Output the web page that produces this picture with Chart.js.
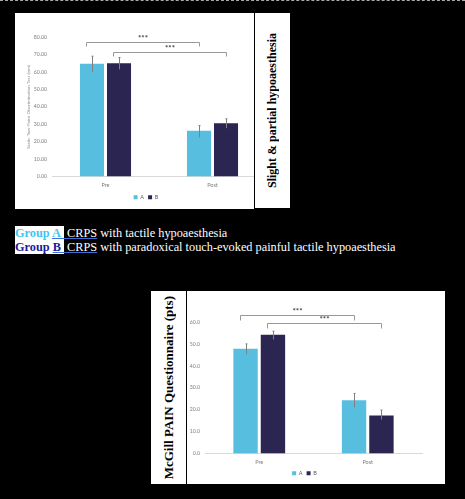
<!DOCTYPE html>
<html>
<head>
<meta charset="utf-8">
<script src="https://cdn.jsdelivr.net/npm/chart.js@4.4.1/dist/chart.umd.min.js"></script>
<style>
    html, body { margin: 0; padding: 0; background: #000; }
    body { width: 465px; height: 499px; position: relative; overflow: hidden; }
    .dash { position: absolute; left: 0; top: 0; width: 465px; border-top: 1px dashed #aaa; }
    .box { position: absolute; background: #fff; overflow: hidden; }
    .side { display: flex; align-items: center; justify-content: center; }
    .side span {
        writing-mode: vertical-rl; transform: rotate(180deg);
        font: bold 12px "Liberation Serif", "DejaVu Serif", serif; color: #000; white-space: nowrap;
    }
    #notes { position: absolute; left: 15px; top: 226px; font-family: "Liberation Serif", serif; font-size: 12.3px; line-height: 14px; color: #fff; white-space: nowrap; }
    #notes .w { background: #fff; }
    #notes u { text-decoration-color: #3b6fd6; }
    .ga { color: #3fc5f3; font-weight: bold; }
    .gb { color: #1a1a9a; font-weight: bold; }
</style>
</head>
<body>
<div class="dash"></div>

<div class="box" style="left:15px; top:13px; width:239px; height:196px;">
    <canvas id="tpdChart" width="265" height="196"></canvas>
</div>
<div class="box side" style="left:255px; top:13px; width:35px; height:195px;">
    <span>Slight &amp; partial hypoaesthesia</span>
</div>

<div id="notes">
    <div><span class="w"><span class="ga">Group <u>A&nbsp;</u></span></span><u>&nbsp;CRPS</u> with tactile hypoaesthesia</div>
    <div><span class="w"><span class="gb">Group <u>B&nbsp;</u></span></span><u>&nbsp;CRPS</u> with paradoxical touch-evoked painful tactile hypoaesthesia</div>
</div>

<div class="box side" style="left:151px; top:291px; width:35px; height:193px;">
    <span style="font-size:13px">McGill PAIN Questionnaire (pts)</span>
</div>
<div class="box" style="left:187px; top:291px; width:258px; height:193px;">
    <canvas id="mcgChart" width="258" height="193"></canvas>
</div>

<script>
const categories = ['Pre', 'Post'];
const seriesNames = ['A', 'B'];
const seriesColors = ['#57bee0', '#2b2552'];

// Static Two-Point Discrimination Test (mm)
const tpdA = [64.7, 26.3];
const tpdB = [64.9, 30.6];
const tpdALow = [60.0, 22.4];
const tpdAHigh = [69.0, 29.2];
const tpdBLow = [61.4, 27.7];
const tpdBHigh = [68.2, 33.1];
const tpdMax = 80;
const tpdStep = 10;
const tpdBracketLevels = [77.4, 71.5];

// McGill PAIN Questionnaire (pts)
const mcgA = [47.8, 24.3];
const mcgB = [54.2, 17.3];
const mcgALow = [45.3, 21.0];
const mcgAHigh = [50.0, 27.4];
const mcgBLow = [52.0, 15.5];
const mcgBHigh = [55.8, 19.8];
const mcgMax = 60;
const mcgStep = 10;
const mcgBracketLevels = [63.2, 59.6];

const starLabel = '***';

// error bars drawn from each dataset's low/high arrays
const errorBars = {
    id: 'errorBars',
    afterDatasetsDraw(chart) {
        const ctx = chart.ctx, y = chart.scales.y;
        ctx.save();
        ctx.strokeStyle = '#808080';
        ctx.lineWidth = 1;
        chart.data.datasets.forEach((ds, i) => {
            chart.getDatasetMeta(i).data.forEach((bar, j) => {
                const top = y.getPixelForValue(ds.high[j]);
                const bot = y.getPixelForValue(ds.low[j]);
                const x = Math.round(bar.x) + 0.5;
                ctx.beginPath();
                ctx.moveTo(x, top); ctx.lineTo(x, bot);
                ctx.moveTo(x - 1, top); ctx.lineTo(x + 1, top);
                ctx.stroke();
            });
        });
        ctx.restore();
    }
};

// significance brackets: series i, Pre -> Post
const brackets = {
    id: 'brackets',
    afterDatasetsDraw(chart, args, opts) {
        const ctx = chart.ctx, y = chart.scales.y;
        ctx.save();
        ctx.strokeStyle = '#999';
        ctx.lineWidth = 1;
        ctx.fillStyle = '#3f3f3f';
        ctx.font = 'bold 8px Lato';
        ctx.textAlign = 'center';
        ctx.textBaseline = 'middle';
        opts.levels.forEach((level, i) => {
            const bars = chart.getDatasetMeta(i).data;
            const left = Math.round(bars[0].x - 6) + 0.5;
            const right = Math.round(bars[1].x) + 0.5;
            const yl = Math.round(y.getPixelForValue(level)) + 0.5;
            ctx.beginPath();
            ctx.moveTo(left, yl + opts.tick);
            ctx.lineTo(left, yl);
            ctx.lineTo(right, yl);
            ctx.lineTo(right, yl + opts.tick);
            ctx.stroke();
            ctx.fillText(starLabel, (left + right) / 2, yl - 4);
        });
        ctx.restore();
    }
};

function makeChart(id, a, b, aLow, aHigh, bLow, bHigh, max, step, decimals, levels, cfg) {
    return new Chart(document.getElementById(id), {
        type: 'bar',
        data: {
            labels: categories,
            datasets: [
                { label: seriesNames[0], data: a, low: aLow, high: aHigh, backgroundColor: seriesColors[0] },
                { label: seriesNames[1], data: b, low: bLow, high: bHigh, backgroundColor: seriesColors[1] }
            ]
        },
        options: {
            responsive: false,
            animation: false,
            categoryPercentage: cfg.catPct,
            barPercentage: 0.89,
            layout: { padding: cfg.padding },
            scales: {
                x: {
                    grid: { display: false, drawTicks: false },
                    border: { display: true, color: '#d9d9d9' },
                    ticks: { color: '#7f7f7f', font: { family: 'Lato', size: 5.5 }, padding: 5 },
                    afterFit: s => { s.height = cfg.xHeight; }
                },
                y: {
                    min: 0, max: max,
                    grid: { display: false, drawTicks: false },
                    border: { display: false },
                    ticks: {
                        stepSize: step, padding: 5, color: '#7f7f7f',
                        font: { family: 'Lato', size: 5.2 },
                        callback: v => v.toFixed(decimals)
                    },
                    title: cfg.title,
                    afterFit: s => { s.width = cfg.yWidth; }
                }
            },
            plugins: {
                legend: {
                    position: 'bottom',
                    labels: { boxWidth: 4, boxHeight: 4, padding: 4, color: '#595959', font: { family: 'Lato', size: 5.5 } }
                },
                tooltip: { enabled: false },
                brackets: { levels: levels, tick: cfg.tick }
            }
        },
        plugins: [errorBars, brackets]
    });
}

makeChart('tpdChart', tpdA, tpdB, tpdALow, tpdAHigh, tpdBLow, tpdBHigh, tpdMax, tpdStep, 2, tpdBracketLevels, {
    catPct: 0.505,
    padding: { left: 11, right: 14, top: 24, bottom: -1 },
    xHeight: 14,
    yWidth: 26,
    tick: 4,
    title: { display: true, text: 'Static Two-Point Discrimination Test (mm)', color: '#8c8c8c', font: { family: 'Lato', size: 4.6 }, padding: 0 }
});

makeChart('mcgChart', mcgA, mcgB, mcgALow, mcgAHigh, mcgBLow, mcgBHigh, mcgMax, mcgStep, 1, mcgBracketLevels, {
    catPct: 0.505,
    padding: { left: 0, right: 23, top: 31, bottom: -2 },
    xHeight: 13,
    yWidth: 18,
    tick: 5,
    title: { display: false }
});
</script>
</body>
</html>
